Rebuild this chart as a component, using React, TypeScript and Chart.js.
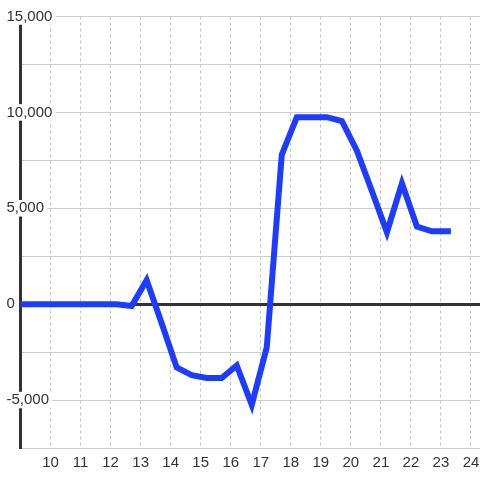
import React, { useEffect, useRef } from "react";
import { Chart, registerables } from "chart.js";

Chart.register(...registerables);

const hours = [8.7, 9.2, 9.7, 10.2, 10.7, 11.2, 11.7, 12.2, 12.7, 13.2, 13.7, 14.2, 14.7, 15.2, 15.7, 16.2, 16.7, 17.2, 17.7, 18.2, 18.7, 19.2, 19.7, 20.2, 20.7, 21.2, 21.7, 22.2, 22.7, 23.33];
const values = [0, 0, 0, 0, 0, 0, 0, 0, -100, 1250, -1000, -3300, -3700, -3850, -3850, -3200, -5250, -2250, 7800, 9750, 9750, 9750, 9550, 8000, 5900, 3750, 6300, 4050, 3800, 3800];
const xTicks = [10, 11, 12, 13, 14, 15, 16, 17, 18, 19, 20, 21, 22, 23, 24];
const yTicks = [-7500, -5000, -2500, 0, 2500, 5000, 7500, 10000, 12500, 15000];
const yLabeled = [-5000, 0, 5000, 10000, 15000];

const FONT = "'Liberation Sans', Arial, sans-serif";

export default function App() {
  const ref = useRef<HTMLCanvasElement | null>(null);
  useEffect(() => {
    document.body.style.margin = "0";
    const canvas = ref.current;
    if (!canvas) return;
    const chart = new Chart(canvas, {
      type: "line",
      data: {
        datasets: [
          {
            data: hours.map((h, i) => ({ x: h, y: values[i] })),
            borderColor: "#1e3cff",
            borderWidth: 6,
            pointRadius: 0,
            tension: 0,
            fill: false,
          },
        ],
      },
      options: {
        responsive: false,
        animation: false,
        layout: { padding: { top: 16.5, right: 0, bottom: 2, left: 0 } },
        plugins: { legend: { display: false }, tooltip: { enabled: false } },
        scales: {
          x: {
            type: "linear",
            min: 9,
            max: 24.3,
            afterBuildTicks: (scale: any) => {
              scale.ticks = xTicks.map((v) => ({ value: v }));
            },
            afterFit: (scale: any) => {
              scale.paddingLeft = 0;
              scale.paddingRight = 0;
            },
            grid: { color: "#c4c4c4", lineWidth: 1, drawTicks: false },
            border: { display: false, dash: [3, 3] },
            ticks: {
              padding: 6,
              color: "#333",
              font: { family: FONT, size: 15 },
              maxRotation: 0,
              callback: (v: any) => String(v),
            },
          },
          y: {
            type: "linear",
            min: -7500,
            max: 15000,
            afterBuildTicks: (scale: any) => {
              scale.ticks = yTicks.map((v) => ({ value: v }));
            },
            afterFit: (scale: any) => {
              scale.width = 20.5;
              scale.paddingTop = 0;
              scale.paddingBottom = 0;
            },
            grid: {
              drawTicks: false,
              color: (ctx: any) => (ctx.tick && ctx.tick.value === 0 ? "#333" : "#cccccc"),
              lineWidth: (ctx: any) => (ctx.tick && ctx.tick.value === 0 ? 3 : 1),
            },
            border: { display: true, color: "#333", width: 3 },
            ticks: {
              mirror: true,
              padding: -14,
              color: "#333",
              font: { family: FONT, size: 15, lineHeight: 1.1 },
              showLabelBackdrop: (ctx: any) => yLabeled.includes(ctx.tick.value),
              backdropColor: "#ffffff",
              backdropPadding: { top: 0, bottom: 0, left: 2, right: 3 },
              callback: (v: any) =>
                yLabeled.includes(Number(v)) ? Number(v).toLocaleString("en-US") : "",
            },
          },
        },
      },
    });
    return () => chart.destroy();
  }, []);
  return (
    <canvas ref={ref} width={480} height={480} style={{ display: "block", width: 480, height: 480 }} />
  );
}
